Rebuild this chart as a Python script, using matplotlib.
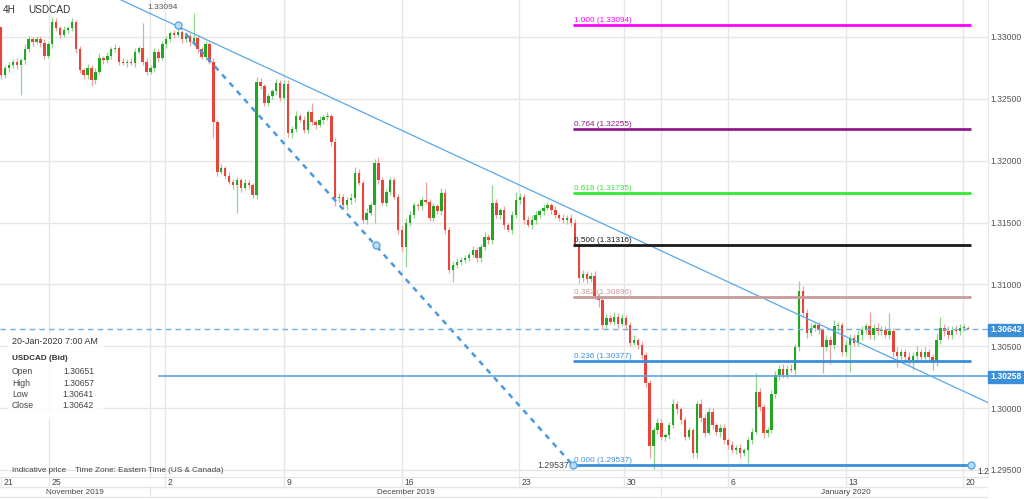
import matplotlib
matplotlib.use('Agg')
import matplotlib.pyplot as plt
from matplotlib.patches import Rectangle

plt.rcParams['font.family'] = ['Liberation Sans', 'DejaVu Sans']

W, H = 1024, 499

# ========== 数据（4H USDCAD，读自原图）==========
first_open = 1.3308
closes = [
    1.3269, 1.3275, 1.3277, 1.3280, 1.3277, 1.3281, 1.3290, 1.3298, 1.3296, 1.3298,
    1.3295, 1.3285, 1.3294, 1.3312, 1.3307, 1.3302, 1.3306, 1.3307, 1.3312, 1.3290,
    1.3273, 1.3269, 1.3275, 1.3265, 1.3272, 1.3283, 1.3281, 1.3285, 1.3290, 1.3291,
    1.3280, 1.3279, 1.3280, 1.3279, 1.3288, 1.3291, 1.3280, 1.3272, 1.3275, 1.3288,
    1.3283, 1.3294, 1.3298, 1.3303, 1.3302, 1.3304, 1.3298, 1.3301, 1.3296, 1.3299,
    1.3290, 1.3284, 1.3294, 1.3280, 1.3231, 1.3191, 1.3194, 1.3188, 1.3183, 1.3180,
    1.3184, 1.3178, 1.3182, 1.3180, 1.3172, 1.3264, 1.3260, 1.3247, 1.3252, 1.3256,
    1.3263, 1.3251, 1.3262, 1.3222, 1.3226, 1.3236, 1.3233, 1.3225, 1.3239, 1.3231,
    1.3229, 1.3233, 1.3235, 1.3236, 1.3215, 1.3170, 1.3171, 1.3164, 1.3168, 1.3170,
    1.3190, 1.3182, 1.3152, 1.3158, 1.3164, 1.3198, 1.3184, 1.3166, 1.3175, 1.3184,
    1.3171, 1.3144, 1.3130, 1.3150, 1.3156, 1.3164, 1.3163, 1.3168, 1.3167, 1.3154,
    1.3163, 1.3159, 1.3174, 1.3144, 1.3112, 1.3116, 1.3118, 1.3120, 1.3121, 1.3124,
    1.3128, 1.3121, 1.3130, 1.3138, 1.3136, 1.3166, 1.3156, 1.3160, 1.3148, 1.3144,
    1.3156, 1.3168, 1.3171, 1.3152, 1.3148, 1.3152, 1.3156, 1.3159, 1.3162, 1.3164,
    1.3160, 1.3156, 1.3154, 1.3152, 1.3154, 1.3150, 1.3132, 1.3105, 1.3108, 1.3104,
    1.3107, 1.3091, 1.3087, 1.3067, 1.3073, 1.3070, 1.3074, 1.3068, 1.3073, 1.3067,
    1.3053, 1.3055, 1.3051, 1.3043, 1.3020, 1.2969, 1.2982, 1.2988, 1.2977, 1.2978,
    1.2986, 1.3003, 1.2999, 1.2990, 1.2977, 1.2982, 1.2964, 1.3003, 1.2992, 1.2980,
    1.2997, 1.2986, 1.2981, 1.2984, 1.2974, 1.2970, 1.2966, 1.2968, 1.2964, 1.2966,
    1.2974, 1.2981, 1.3013, 1.3001, 1.2980, 1.2982, 1.3011, 1.3027, 1.3032, 1.3027,
    1.3032, 1.3031, 1.3049, 1.3095, 1.3077, 1.3061, 1.3065, 1.3067, 1.3063, 1.3049,
    1.3055, 1.3051, 1.3066, 1.3067, 1.3045, 1.3051, 1.3057, 1.3053, 1.3059, 1.3063,
    1.3066, 1.3059, 1.3065, 1.3062, 1.3063, 1.3059, 1.3062, 1.3045, 1.3042, 1.3045,
    1.3041, 1.3039, 1.3042, 1.3045, 1.3041, 1.3045, 1.3041, 1.3037, 1.3055, 1.3065,
    1.3062, 1.3059, 1.3063, 1.3062, 1.3065, 1.30651, 1.30642,
]
# 上/下影线长度（点，0.0001）
upper_wick = [
    0, 2, 3, 2, 3, 2, 4, 3, 2, 3,
    3, 3, 2, 4, 3, 2, 3, 2, 3, 2,
    3, 2, 3, 2, 3, 4, 2, 3, 2, 3,
    2, 3, 2, 3, 3, 2, 20, 3, 2, 3,
    2, 3, 3, 2, 3, 5, 2, 3, 2, 20,
    3, 2, 3, 2, 3, 2, 3, 2, 3, 2,
    3, 2, 3, 2, 2, 4, 3, 2, 3, 2,
    3, 2, 3, 3, 2, 4, 2, 3, 2, 8,
    2, 3, 2, 3, 2, 3, 3, 2, 3, 4,
    5, 3, 2, 4, 3, 3, 5, 3, 2, 3,
    3, 2, 3, 4, 3, 3, 2, 3, 15, 2,
    3, 2, 4, 3, 2, 3, 3, 2, 3, 2,
    3, 2, 3, 4, 3, 14, 3, 2, 3, 2,
    3, 7, 3, 2, 3, 4, 3, 2, 3, 3,
    2, 3, 2, 3, 2, 3, 3, 2, 4, 3,
    3, 4, 2, 3, 3, 2, 4, 3, 3, 2,
    3, 4, 2, 3, 2, 3, 3, 4, 3, 2,
    3, 4, 3, 2, 3, 3, 2, 3, 4, 3,
    4, 3, 2, 3, 3, 2, 3, 2, 3, 2,
    3, 3, 15, 3, 2, 3, 4, 3, 3, 4,
    3, 4, 3, 8, 4, 3, 4, 3, 3, 2,
    4, 3, 5, 3, 3, 4, 3, 3, 4, 3,
    3, 12, 3, 4, 3, 3, 15, 3, 4, 3,
    3, 4, 3, 5, 3, 4, 3, 3, 6, 9,
    3, 4, 3, 4, 3, 3, 1,
]
lower_wick = [
    3, 2, 3, 2, 3, 24, 3, 2, 3, 2,
    3, 3, 2, 3, 2, 3, 2, 3, 2, 3,
    2, 3, 3, 5, 3, 2, 3, 2, 3, 2,
    3, 2, 3, 2, 3, 2, 3, 3, 2, 3,
    3, 2, 3, 2, 3, 2, 3, 2, 3, 2,
    3, 2, 3, 2, 13, 3, 2, 3, 2, 3,
    22, 3, 2, 3, 2, 3, 2, 3, 3, 2,
    3, 3, 2, 3, 4, 3, 2, 3, 3, 2,
    3, 2, 3, 2, 3, 7, 3, 2, 4, 3,
    3, 2, 2, 3, 2, 14, 3, 2, 3, 3,
    2, 3, 3, 16, 3, 2, 3, 3, 2, 3,
    3, 2, 3, 3, 3, 10, 3, 2, 3, 2,
    2, 3, 3, 2, 3, 3, 2, 3, 3, 2,
    3, 2, 3, 3, 2, 3, 3, 2, 3, 2,
    3, 2, 3, 2, 3, 3, 2, 4, 3, 3,
    2, 3, 5, 3, 3, 2, 3, 3, 2, 4,
    3, 2, 3, 3, 3, 9, 18, 3, 3, 4,
    3, 2, 4, 3, 3, 2, 4, 4, 3, 3,
    2, 3, 3, 4, 3, 3, 2, 3, 4, 3,
    10, 3, 2, 3, 4, 3, 2, 3, 4, 3,
    3, 2, 4, 3, 3, 4, 3, 3, 3, 21,
    3, 15, 3, 4, 3, 3, 22, 3, 3, 4,
    3, 3, 4, 3, 3, 2, 3, 4, 9, 3,
    3, 4, 8, 3, 4, 3, 3, 6, 3, 3,
    4, 3, 3, 2, 3, 3, 0,
]

fib_ratios = ['1.000', '0.764', '0.618', '0.500', '0.382', '0.236', '0.000']
fib_prices = [1.33094, 1.32255, 1.31735, 1.31316, 1.30896, 1.30377, 1.29537]
fib_colors = ['#ff00ff', '#8e1a8e', '#33e833', '#1a1a1a', '#c99a9a', '#3b8fd9', '#3b8fd9']

y_ticks = [1.295, 1.300, 1.305, 1.310, 1.315, 1.320, 1.325, 1.330]

day_labels = ['21', '25', '2', '9', '16', '23', '30', '6', '13', '20']
day_pos = [0.0, 12.1, 41.7, 72.0, 102.0, 131.8, 158.5, 185.0, 215.0, 244.8]
month_labels = ['November 2019', 'December 2019', 'January 2020']
month_bounds = [-0.3, 37.9, 167.9, 251.1]

last_price = 1.30642
support_price = 1.30258
ohlc_info = [('Open', '1.30651'), ('High', '1.30657'), ('Low', '1.30641'), ('Close', '1.30642')]

# 绘图对象的端点（索引, 价格）
trend_pts = ([30.5, 251.4], [1.33299, 1.3004])
swing_pts = ([45.0, 145.5], [1.33094, 1.29537])
fib_x = (145.5, 246.8)

GREEN, RED = '#22a722', '#e8443a'
GREEN_W, RED_W = '#8fd68f', '#f3a09b'
GRID = '#e6e6e6'
BLUE = '#3b8fd9'
TXT = '#444'


def px(x, y):
    return x / W, 1 - y / H


fig = plt.figure(figsize=(W / 100, H / 100), dpi=100)
ax = fig.add_axes([0, 22 / H, 988 / W, 477 / H])
ax.set_xlim(-0.3, 251.1)
ax.set_ylim(1.29443, 1.33299)

for t in y_ticks:
    ax.axhline(t, color=GRID, lw=1, zorder=0)
for p in day_pos[1:] + [37.9, 167.9]:
    ax.axvline(p, color=GRID, lw=1, zorder=0)

# K线
opens = [first_open] + closes[:-1]
for i, (o, c) in enumerate(zip(opens, closes)):
    top, bot = max(o, c), min(o, c)
    up = c >= o
    ax.vlines(i, bot - lower_wick[i] * 1e-4, top + upper_wick[i] * 1e-4,
              color=GREEN_W if up else RED_W, lw=0.9, zorder=2)
    ax.bar(i, max(top - bot, 0.00009), bottom=bot, width=0.62,
           color=GREEN if up else RED, lw=0, zorder=3)

# 趋势线与摆动线
ax.plot(*trend_pts, color='#5aa8ea', lw=0.9, zorder=4)
ax.plot(*swing_pts, color='#4a98de', lw=1.8, dashes=(2.2, 2.2), zorder=4)
mid = (sum(swing_pts[0]) / 2, sum(swing_pts[1]) / 2)
for mx, my in [(swing_pts[0][0], swing_pts[1][0]), mid,
               (swing_pts[0][1], swing_pts[1][1]), (fib_x[1], fib_prices[-1])]:
    ax.plot(mx, my, 'o', ms=5, mfc='#bcdcf6', mec='#5aa8ea', mew=1, zorder=6)

# 斐波那契回撤
for r, p, c in zip(fib_ratios, fib_prices, fib_colors):
    ax.plot(fib_x, [p, p], color=c, lw=2, zorder=5, solid_capstyle='butt')
    ax.text(fib_x[0] + 0.3, p + 0.0001, f'{r} ({p:.5f})', color=c, fontsize=5.9,
            va='bottom', ha='left', zorder=6)

# 当前价与支撑线
ax.axhline(last_price, color='#6fb1e8', lw=1, dashes=(4, 3), zorder=4)
ax.plot([40.2, 251.1], [support_price, support_price], color='#5aa5e6', lw=1.2, zorder=4)

ax.text(45.0, 1.33235, '1.33094', fontsize=6, color='#555', ha='right', va='center')
ax.text(144.5, fib_prices[-1], '1.29537', fontsize=6.3, color=TXT, ha='right', va='center')

ax.set_xticks([])
ax.yaxis.tick_right()
ax.set_yticks(y_ticks)
ax.set_yticklabels([f'{t:.5f}' for t in y_ticks])
ax.tick_params(axis='y', length=0, labelsize=6.2, labelcolor='#555', pad=2)
for s in ['top', 'left', 'bottom']:
    ax.spines[s].set_visible(False)
ax.spines['right'].set_color(GRID)

# 底部日期带
axb = fig.add_axes([0, 0, 988 / W, 22 / H])
axb.set_xlim(-0.3, 251.1)
axb.set_ylim(0, 22)
axb.axis('off')
for yy in [22, 12, 2]:
    axb.axhline(yy, color=GRID, lw=1)
for lab, p in zip(day_labels, day_pos):
    axb.plot([p, p], [12, 22], color=GRID, lw=1)
    axb.text(p + 0.6, 16.5, lab, fontsize=6.2, color=TXT, ha='left', va='center')
for k, lab in enumerate(month_labels):
    a, b = month_bounds[k], month_bounds[k + 1]
    axb.plot([b, b], [2, 12], color=GRID, lw=1)
    axb.text((a + b) / 2 if k < 2 else 215.0, 6.5, lab, fontsize=5.9, color=TXT,
             ha='center', va='center')

# 右侧价格标签
for price, y in [(last_price, 329.5), (support_price, 376.5)]:
    fig.patches.append(Rectangle(px(988, y + 6), 36 / W, 12 / H, transform=fig.transFigure,
                                 color=BLUE, zorder=10))
    fig.text(*px(990, y), f'{price:.5f}', fontsize=6.2, color='white', weight='bold',
             ha='left', va='center', zorder=11)

# 标题与信息框
fig.text(*px(3, 10), '4H', fontsize=7.2, color='#333', va='center')
fig.text(*px(28, 10), 'USDCAD', fontsize=7.2, color='#333', va='center')
fig.text(*px(977, 472), '1.2', fontsize=6.2, color=TXT, va='center')

fig.patches.append(Rectangle(px(8, 418), 94 / W, 84 / H, transform=fig.transFigure,
                             color='white', alpha=0.85, zorder=7))
fig.text(*px(12, 342), '20-Jan-2020 7:00 AM', fontsize=6.4, color='#333', va='center', zorder=8)
fig.text(*px(12, 359), 'USDCAD (Bid)', fontsize=5.9, color='#333', weight='bold',
         va='center', zorder=8)
for k, (name, val) in enumerate(ohlc_info):
    yy = 372 + k * 11.3
    fig.text(*px(12, yy), name, fontsize=6.2, color=TXT, va='center', zorder=8)
    fig.text(*px(94, yy), val, fontsize=6.2, color=TXT, va='center', ha='right', zorder=8)
fig.text(*px(12, 471), 'Indicative price    Time Zone: Eastern Time (US & Canada)',
         fontsize=5.9, color=TXT, va='center')

fig.savefig('out.png', dpi=100)
